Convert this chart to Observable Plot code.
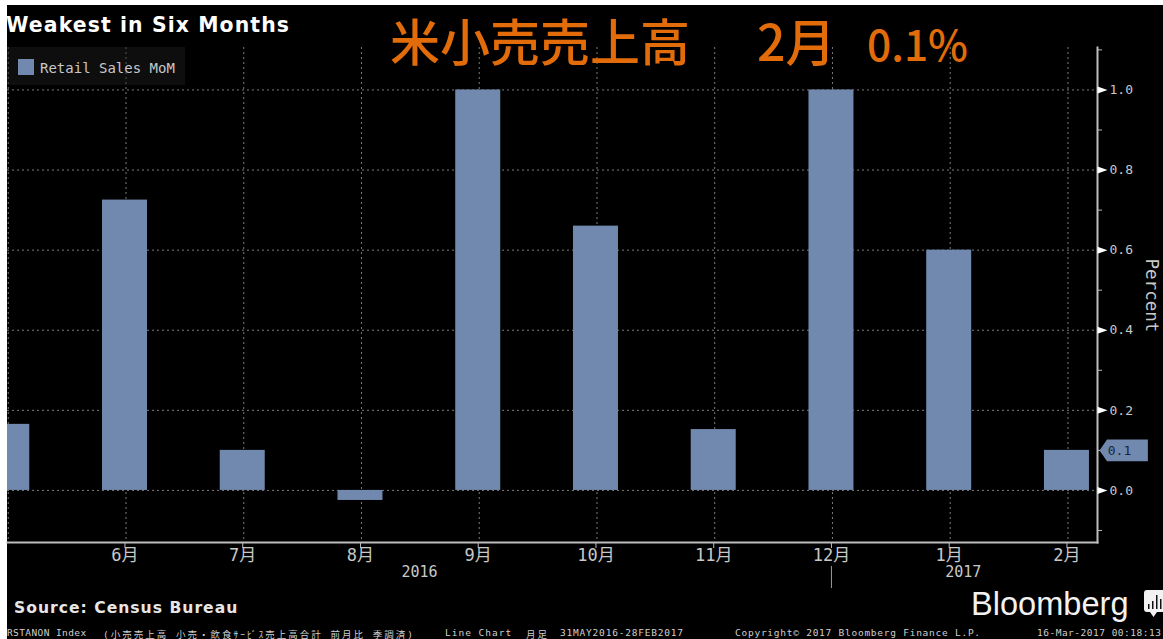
<!DOCTYPE html>
<html lang="ja">
<head>
<meta charset="utf-8">
<title>Weakest in Six Months</title>
<script src="https://cdn.jsdelivr.net/npm/d3@7"></script>
<script src="https://cdn.jsdelivr.net/npm/@observablehq/plot@0.6"></script>
<style>
  html, body { margin: 0; padding: 0; background: #fff; overflow: hidden; }
  #page { position: relative; width: 1163px; height: 639px; overflow: hidden; }
  #panel { position: absolute; left: 7px; top: 5px; width: 1156px; height: 634px; background: #000; }
  #chart { position: absolute; left: 0; top: 0; }
  #chart svg { display: block; background: transparent; overflow: hidden; }
  .t { position: absolute; white-space: pre; line-height: 1; }
  #headline { left: 6px; top: 13px; font: bold 20.4px "DejaVu Sans", sans-serif; letter-spacing: 1.1px; color: #fff; }
  .orange { color: #e36c0a; font-family: "Noto Sans CJK JP", sans-serif; font-weight: 500; font-size: 50px; top: 14px; }
  #legend { position: absolute; left: 7px; top: 47px; width: 178px; height: 38px; background: rgba(32,32,32,.45); }
  #swatch { position: absolute; left: 11px; top: 12px; width: 16px; height: 16px; background: #7189ae; }
  #legendText { left: 33px; top: 13px; font: 14px "DejaVu Sans Mono", monospace; color: #c8c8c8; }
  #source { left: 14px; top: 599px; font: bold 15.6px "DejaVu Sans", sans-serif; letter-spacing: 1px; color: #e6e6e6; }
  .foot { top: 627px; font: 9.5px "DejaVu Sans Mono", "Noto Sans CJK JP", monospace; color: #cfcfcf; }
  #brand { left: 971px; top: 585px; font: 32.6px "Liberation Sans", sans-serif; color: #f2f2f2; }
  #mark { position: absolute; left: 1144px; top: 590px; }
</style>
</head>
<body>
<div id="page">
  <div id="panel"></div>
  <div id="chart"></div>
  <div class="t" id="headline">Weakest in Six Months</div>
  <div class="t orange" style="left:390px">米小売売上高</div>
  <div class="t orange" style="left:757px">2月</div>
  <div class="t orange" style="left:867px;font-size:42.5px;top:22px">0.1%</div>
  <div id="legend"><div id="swatch"></div><div class="t" id="legendText">Retail Sales MoM</div></div>
  <div class="t" id="source">Source: Census Bureau</div>
  <div class="t foot" style="left:7px;letter-spacing:.4px">RSTANON Index</div>
  <div class="t foot" style="left:103px;letter-spacing:2px">(小売売上高 小売・飲食ｻｰﾋﾞｽ売上高合計 前月比 季調済)</div>
  <div class="t foot" style="left:445px;letter-spacing:1px">Line Chart</div>
  <div class="t foot" style="left:526px;letter-spacing:2px">月足</div>
  <div class="t foot" style="left:560px;letter-spacing:.8px">31MAY2016-28FEB2017</div>
  <div class="t foot" style="left:735px;letter-spacing:.75px">Copyright© 2017 Bloomberg Finance L.P.</div>
  <div class="t foot" style="left:1037px;letter-spacing:.5px">16-Mar-2017 00:18:13</div>
  <div class="t" id="brand">Bloomberg</div>
  <svg id="mark" width="19" height="28" viewBox="0 0 19 28">
    <path d="M3 0H19V22H13L9.5 27L6 22H3Q0 22 0 19V3Q0 0 3 0Z" fill="#f2f2f2"/>
    <path d="M4 14h1.5v5H4zM8 11h1.5v8H8zM12 5h1.5v14H12zM16 9h1.5v10H16z" fill="#111"/>
  </svg>
</div>
<script>
// Monthly change in US retail sales, percent
const months = ["5月", "6月", "7月", "8月", "9月", "10月", "11月", "12月", "1月", "2月"];
const change = [0.165, 0.725, 0.1, -0.025, 1.0, 0.66, 0.152, 1.0, 0.6, 0.1];
const labelledMonths = months.slice(1);
const majorTicks = [0, 0.2, 0.4, 0.6, 0.8, 1.0];
const minorTicks = [-0.1, 0.1, 0.3, 0.5, 0.7, 0.9, 1.1];
const latestValue = [0.1];
const yearBreak = ["12月"];

const barColor = "#7189ae";
const gridColor = "#7c7c7c";
const inkColor = "#c8c8c8";
const axisColor = "#bdbdbd";
const mono = "'DejaVu Sans Mono', 'Noto Sans CJK JP', monospace";

const rows = months.map((month, i) => ({month, value: change[i]}));

// Arrowhead on each labelled value of the right-hand axis
const pointer = {
  draw(context, size) {
    const r = Math.sqrt(size / Math.PI);
    context.moveTo(0, -r * 0.7);
    context.lineTo(r * 2, 0);
    context.lineTo(0, r * 0.7);
    context.closePath();
  }
};

// Flag holding the latest reading beside the axis
const flag = {
  draw(context, size) {
    const r = Math.sqrt(size / Math.PI);
    context.moveTo(0, 0);
    context.lineTo(r * 0.7, -r);
    context.lineTo(r * 4.48, -r);
    context.lineTo(r * 4.48, r);
    context.lineTo(r * 0.7, r);
    context.closePath();
  }
};

// Year captions sit below the month labels, shifted from their anchor month
const yearCaption = (year, month, shift) =>
  Plot.text([year], {
    x: () => month, dx: shift, text: d => d, frameAnchor: "bottom", dy: 34,
    fill: inkColor, fontFamily: mono, fontSize: 15
  });

const chart = Plot.plot({
  width: 1163,
  height: 639,
  marginLeft: 7,
  marginRight: 66,
  marginTop: 47,
  marginBottom: 97,
  style: {background: "transparent", color: inkColor},
  x: {type: "band", domain: months, range: [-88.5, 1161.7], padding: 0.6178, round: false, label: null},
  y: {domain: [-0.13, 1.106], label: null},
  marks: [
    Plot.ruleX(months, {x: d => d, stroke: gridColor, strokeDasharray: "2 3", strokeWidth: 1, dx: 1}),
    Plot.ruleY(majorTicks, {y: d => d, stroke: gridColor, strokeDasharray: "2 3", strokeWidth: 1}),
    Plot.barY(rows, {x: "month", y: "value", fill: barColor, clip: true}),
    Plot.frame({anchor: "right", stroke: axisColor, strokeWidth: 2}),
    Plot.frame({anchor: "bottom", stroke: axisColor, strokeWidth: 2}),
    Plot.axisX({
      anchor: "bottom", ticks: labelledMonths, tickSize: 6, tickPadding: 0,
      stroke: axisColor, fill: inkColor, fontFamily: mono, fontSize: 17, label: null
    }),
    Plot.axisY({
      anchor: "right", ticks: majorTicks, tickSize: 0, tickPadding: 12,
      tickFormat: d3.format(".1f"), fill: inkColor, fontFamily: mono, fontSize: 13, label: null
    }),
    Plot.axisY({
      anchor: "right", ticks: minorTicks, tickSize: 4, tickFormat: () => "",
      stroke: axisColor, label: null
    }),
    Plot.dot(majorTicks, {
      y: d => d, frameAnchor: "right", symbol: pointer, r: 5, fill: "#fff", stroke: "none"
    }),
    Plot.dot(latestValue, {
      y: d => d, frameAnchor: "right", dx: 2, symbol: flag, r: 10.8, fill: barColor, stroke: "none"
    }),
    Plot.text(latestValue, {
      y: d => d, frameAnchor: "right", textAnchor: "middle", dx: 22, text: d => d3.format(".1f")(d),
      fill: "#1b2638", fontFamily: mono, fontSize: 13
    }),
    yearCaption("2016", "8月", 59),
    yearCaption("2017", "1月", 14),
    Plot.ruleX(yearBreak, {x: d => d, y1: -0.19, y2: -0.245, stroke: "#999", strokeWidth: 1}),
    Plot.text(["Percent"], {
      y: () => 0.487, frameAnchor: "right", textAnchor: "middle", dx: 54, rotate: 90, text: d => d,
      fill: inkColor, fontFamily: mono, fontSize: 17.5
    })
  ]
});
document.getElementById("chart").appendChild(chart);
</script>
</body>
</html>
